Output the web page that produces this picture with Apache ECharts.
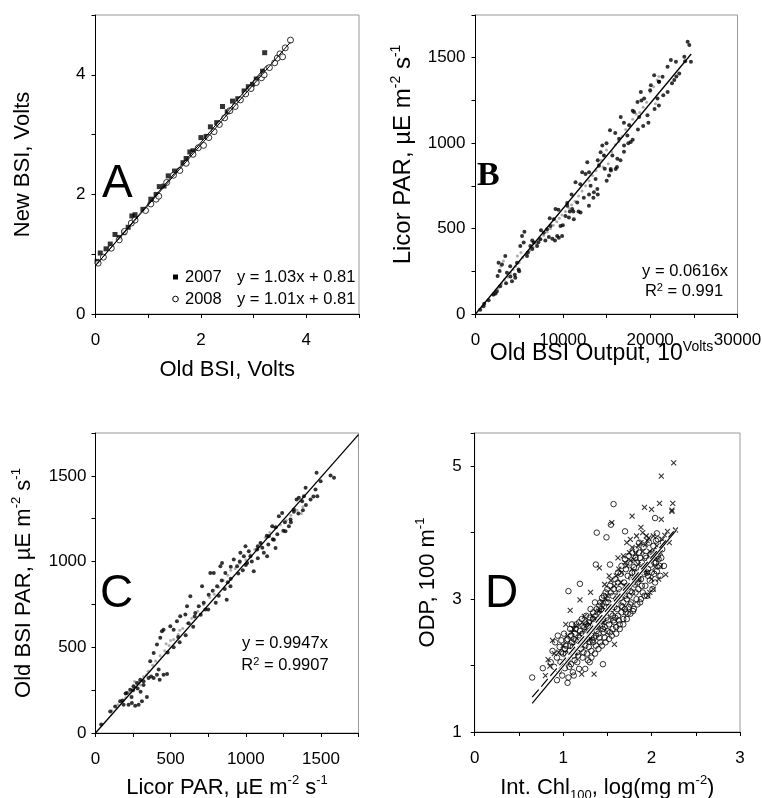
<!DOCTYPE html>
<html>
<head>
<meta charset="utf-8">
<script src="https://cdn.jsdelivr.net/npm/echarts@6/dist/echarts.min.js"></script>
<style>
  html, body { margin: 0; padding: 0; background: #fff; }
  #main { width: 762px; height: 798px; }
</style>
</head>
<body>
<div id="main"></div>
<script>
// ---- data ----
// panel A: new vs old BSI, volts
const panelA2007 = [[0.03,0.88],[0.09,1.02],[0.2,1.09],[0.28,1.17],[0.37,1.33],[0.45,1.28],[0.54,1.36],[0.62,1.45],
  [0.69,1.64],[0.75,1.66],[0.9,1.75],[1.05,1.92],[1.15,2.0],[1.21,2.13],[1.3,2.14],[1.38,2.31],[1.5,2.39],[1.66,2.53],
  [1.72,2.6],[1.79,2.71],[1.85,2.73],[2.0,2.95],[2.1,2.97],[2.18,3.13],[2.3,3.2],[2.41,3.47],[2.5,3.38],[2.6,3.56],
  [2.7,3.6],[2.82,3.73],[2.9,3.8],[2.98,3.84],[3.05,3.93],[3.17,4.06],[3.21,4.37]];
const panelA2008 = [[0.05,0.85],[0.15,0.95],[0.3,1.1],[0.45,1.24],[0.55,1.38],[0.68,1.52],[0.75,1.57],[0.95,1.73],
  [1.05,1.84],[1.15,1.92],[1.2,1.97],[1.35,2.2],[1.48,2.32],[1.6,2.4],[1.72,2.52],[1.85,2.67],[1.95,2.78],[2.05,2.82],
  [2.15,2.95],[2.25,3.05],[2.35,3.17],[2.45,3.28],[2.55,3.4],[2.65,3.47],[2.75,3.58],[2.85,3.68],[2.95,3.77],[3.05,3.87],
  [3.15,3.95],[3.2,4.0],[3.3,4.12],[3.4,4.2],[3.45,4.28],[3.5,4.35],[3.55,4.3],[3.6,4.45],[3.7,4.58]];
const fitA2007 = [1.03, 0.81], rangeA2007 = [0, 3.25];
const fitA2008 = [1.01, 0.81], rangeA2008 = [0, 3.7];

// panel B: licor PAR vs old BSI output
const panelBBlack = [[540,25],[920,45],[1000,60],[1500,80],[2070,114],[2300,120],[2450,133],[2830,163],[2530,222],[2760,251],
  [3030,290],[2640,300],[3410,339],[3500,180],[3600,241],[3980,280],[4000,220],[4180,192],[4500,230],[4560,212],[4750,300],
  [4940,261],[5000,250],[5130,398],[5330,457],[5520,418],[5600,482],[5900,339],[6000,360],[6280,398],[6500,380],[6500,430],
  [6670,418],[7050,398],[7200,420],[7430,437],[7500,490],[7820,476],[8000,430],[8200,496],[8400,450],[8500,560],[8580,515],
  [8800,440],[8970,555],[9100,430],[9160,614],[9350,457],[9500,610],[9540,447],[9730,515],[9920,457],[10000,520],[10300,574],
  [10500,633],[10500,650],[10690,565],[10800,600],[11000,700],[11070,614],[11200,600],[11260,555],[11450,771],[11650,653],
  [11800,600],[12000,760],[12030,594],[12220,829],[12400,680],[12600,819],[12800,888],[12990,633],[13000,700],[13000,830],
  [13180,751],[13500,680],[13560,712],[13750,790],[13950,731],[14000,700],[14000,900],[14140,868],[14330,947],[14520,986],
  [14710,927],[14800,850],[15000,1000],[15020,780],[15290,810],[15400,1075],[15480,849],[15500,840],[15670,927],[16000,1060],
  [16050,849],[16200,860],[16240,908],[16440,1025],[16600,900],[16630,1153],[17000,950],[17000,1120],[17010,986],[17390,1045],
  [17500,1000],[17590,1104],[17780,1006],[18000,1020],[18000,1190],[18160,1182],[18550,1241],[18600,1080],[18740,1153],
  [18930,1300],[19000,1250],[19200,1100],[19310,1261],[19690,1163],[19800,1120],[20000,1310],[20080,1339],[20460,1398],
  [20500,1200],[20840,1261],[21000,1220],[21000,1360],[21030,1359],[21420,1388],[21500,1280],[21990,1447],[22000,1300],
  [22370,1486],[22500,1350],[22760,1369],[22950,1476],[23000,1390],[23330,1408],[23910,1506],[24000,1480],[24290,1594],
  [24480,1574],[24670,1476]];
const panelBGray = [[2000,110],[2600,150],[2900,280],[3000,175],[3200,310],[3300,200],[3700,215],[4000,240],[4300,260],
  [4600,280],[4800,340],[5000,300],[5200,360],[5400,330],[5800,350],[6200,370],[6600,390],[7000,410],[7400,440],[7800,460],
  [8200,480],[8600,500],[8900,520],[9300,540],[9600,560],[9900,580],[10300,600],[10700,620],[11000,640],[11400,660],
  [11800,690],[12200,720],[12600,750],[13000,780],[13400,810],[13800,840],[14100,880],[14400,900],[14600,860],[14700,930],
  [15000,960],[15200,880],[15600,950],[16000,990],[16400,1010],[16800,1040],[17200,1080],[17600,1110],[18000,1140],
  [18400,1170],[18800,1180],[19200,1210],[19600,1240],[20000,1300],[20400,1330],[20600,1230],[20800,1370],[21000,1390]];
const fitB = [0.0616, 0], rangeB = [0, 24700];

// panel C: old BSI PAR vs licor PAR
const panelCBlack = [[38,49],[98,126],[131,155],[164,185],[180,190],[187,165],[200,230],[209,233],[220,165],[231,253],
  [240,210],[242,175],[250,250],[253,272],[264,159],[276,292],[280,260],[287,165],[298,311],[300,240],[309,185],[320,302],
  [320,280],[342,210],[353,321],[364,418],[370,330],[387,321],[387,467],[409,340],[409,516],[420,370],[427,311],[431,555],
  [442,593],[453,340],[453,603],[476,344],[480,470],[498,623],[520,603],[520,500],[542,652],[550,560],[560,530],[564,681],
  [598,691],[600,570],[609,739],[620,640],[631,798],[650,620],[660,680],[664,700],[687,739],[700,690],[709,856],[720,760],
  [731,720],[750,720],[753,807],[764,934],[780,830],[787,934],[800,760],[809,856],[820,800],[831,973],[840,890],[842,992],
  [860,840],[864,934],[873,778],[880,880],[898,856],[900,900],[900,970],[920,1012],[942,973],[950,930],[960,1000],[964,1051],
  [980,950],[987,1031],[998,1089],[1000,980],[1009,992],[1020,1060],[1031,1031],[1040,1000],[1053,944],[1076,1070],
  [1080,1020],[1080,1090],[1098,1109],[1110,1080],[1120,1051],[1140,1150],[1142,1031],[1150,1100],[1153,1148],[1176,1206],
  [1180,1130],[1187,1128],[1198,1079],[1200,1200],[1210,1160],[1220,1265],[1242,1284],[1250,1180],[1260,1230],[1264,1177],
  [1287,1206],[1298,1245],[1300,1230],[1320,1304],[1320,1290],[1338,1362],[1350,1280],[1353,1372],[1375,1352],[1380,1300],
  [1387,1381],[1398,1430],[1400,1330],[1431,1362],[1450,1380],[1464,1420],[1471,1518],[1476,1381],[1498,1469],[1564,1502],
  [1587,1489]];
const panelCGray = [[110,130],[150,165],[200,205],[230,235],[260,270],[260,300],[290,300],[300,280],[320,330],[340,340],
  [350,360],[380,395],[400,420],[430,450],[460,480],[470,520],[490,510],[500,540],[520,545],[550,575],[560,600],[580,610],
  [610,640],[640,670],[680,710],[720,750],[760,790],[790,810],[820,850],[850,890],[880,920],[900,950],[930,960],[960,990],
  [1000,1010],[1030,1040],[1060,1070],[1100,1110],[1130,1140],[1160,1170],[1190,1200],[1230,1215],[1270,1240],[1300,1270],
  [1340,1300],[1370,1280],[1380,1320]];
const fitC = [0.9947, 0], rangeC = [0, 1750];

// panel D: ODP vs integrated chl
const panelDCircles = [[0.65,1.82],[0.77,1.96],[0.86,2.05],[0.88,2.22],[0.90,1.98],[0.91,2.35],[0.93,2.12],[0.93,1.78],
  [0.94,2.45],[0.95,1.92],[0.96,2.28],[0.97,2.05],[0.98,2.38],[0.98,2.20],[0.99,1.85],[1.00,2.18],[1.01,2.48],[1.02,1.96],
  [1.02,2.25],[1.03,2.30],[1.04,2.10],[1.05,2.40],[1.05,1.74],[1.06,1.82],[1.06,2.15],[1.06,3.12],[1.07,2.22],[1.08,2.55],
  [1.08,2.30],[1.09,2.02],[1.10,2.35],[1.11,1.90],[1.12,2.15],[1.12,2.40],[1.12,1.85],[1.13,2.48],[1.14,2.28],[1.15,2.62],
  [1.16,2.05],[1.16,2.20],[1.17,2.38],[1.18,1.95],[1.18,2.32],[1.19,2.52],[1.19,3.23],[1.20,2.25],[1.21,2.70],[1.22,2.12],
  [1.23,2.42],[1.24,2.58],[1.24,2.38],[1.25,2.30],[1.25,1.95],[1.26,2.75],[1.26,2.50],[1.27,2.18],[1.28,2.48],[1.28,2.60],
  [1.29,2.65],[1.30,2.36],[1.30,2.05],[1.31,2.85],[1.32,2.22],[1.32,2.45],[1.33,2.55],[1.34,2.70],[1.34,2.35],[1.35,2.42],
  [1.36,2.95],[1.36,2.58],[1.37,2.30],[1.37,3.52],[1.38,2.62],[1.38,2.52],[1.38,4.00],[1.39,2.80],[1.40,2.48],[1.40,2.70],
  [1.41,2.90],[1.42,2.35],[1.42,2.78],[1.43,2.68],[1.44,3.02],[1.44,2.60],[1.45,2.55],[1.45,2.02],[1.46,2.82],[1.46,2.50],
  [1.47,2.42],[1.48,3.10],[1.48,2.80],[1.49,2.72],[1.49,3.93],[1.50,2.52],[1.51,2.95],[1.52,2.62],[1.52,2.88],[1.53,3.20],
  [1.53,3.52],[1.54,2.78],[1.54,3.10],[1.54,4.12],[1.55,2.45],[1.56,3.05],[1.56,2.75],[1.57,2.68],[1.57,4.43],[1.58,2.88],
  [1.58,2.65],[1.59,3.30],[1.60,2.58],[1.60,3.00],[1.61,2.98],[1.62,2.75],[1.62,3.25],[1.63,3.15],[1.64,2.62],[1.64,3.10],
  [1.65,3.38],[1.66,2.90],[1.66,2.80],[1.67,3.08],[1.68,2.70],[1.68,2.95],[1.69,3.25],[1.70,2.85],[1.70,3.05],[1.70,4.02],
  [1.71,3.45],[1.72,3.00],[1.72,3.20],[1.73,2.78],[1.74,3.18],[1.74,2.88],[1.75,3.55],[1.76,2.92],[1.76,3.12],[1.77,3.32],
  [1.78,3.10],[1.78,3.40],[1.79,2.82],[1.80,3.48],[1.80,3.30],[1.81,3.22],[1.82,3.62],[1.82,3.10],[1.83,3.00],[1.84,3.40],
  [1.84,3.25],[1.85,3.15],[1.86,3.70],[1.87,2.95],[1.88,3.30],[1.88,3.45],[1.89,3.55],[1.90,3.10],[1.91,3.78],[1.92,3.38],
  [1.92,3.50],[1.93,3.20],[1.94,3.62],[1.95,3.05],[1.96,3.45],[1.96,3.35],[1.97,3.85],[1.98,3.28],[1.99,3.68],[2.00,3.40],
  [2.00,3.60],[2.01,3.15],[2.02,3.80],[2.03,3.55],[2.04,3.25],[2.04,4.22],[2.05,3.72],[2.05,3.88],[2.06,3.42],[2.06,3.99],
  [2.07,3.90],[2.08,3.60],[2.10,3.35],[2.12,3.75],[2.14,3.50],
  [1.01,2.05],[1.03,2.18],[1.04,2.38],[1.07,1.98],[1.09,2.45],[1.11,2.28],[1.13,2.08],[1.14,2.55],[1.17,2.15],[1.19,2.42],
  [1.21,2.35],[1.22,2.60],[1.23,2.20],[1.25,2.65],[1.27,2.40],[1.29,2.28],[1.31,2.52],[1.33,2.38],[1.35,2.65],[1.37,2.45],
  [1.39,2.58],[1.41,2.42],[1.43,2.85],[1.45,2.70],[1.47,2.58],[1.49,2.95],[1.51,2.68],[1.53,2.50],[1.55,2.85],[1.57,3.15],
  [1.59,2.72],[1.61,2.85],[1.63,2.68],[1.65,3.02],[1.67,2.88],[1.69,3.12],[1.71,2.80],[1.73,3.35],[1.75,3.05],[1.77,2.95],
  [1.79,3.25],[1.81,3.40],[1.83,3.55],[1.85,3.30],[1.87,3.62],[1.89,3.20],[1.91,3.45],[1.93,3.65],[1.95,3.40],[1.97,3.58],
  [1.99,3.52],[2.01,3.70],[2.03,3.38],[2.05,3.55],[2.07,3.65],[2.09,3.50],[2.11,3.62],[2.13,3.85],[1.62,3.40],[1.66,3.50],
  [1.70,3.60],[1.74,3.65],[1.78,3.70],[1.82,3.75],[1.86,3.85],[1.60,2.48],[1.64,2.55],[1.68,2.62],[1.72,2.70],[1.76,2.78],
  [1.80,2.85],[1.84,2.92],[1.88,3.00],[1.92,3.05],[1.50,3.15],[1.46,3.05],[1.42,2.95],[1.38,2.85],[1.34,2.80],[1.30,2.72],
  [1.26,2.62],[1.22,2.48],[1.18,2.65],[1.14,2.38],[1.10,2.62],[1.56,2.55],[1.52,2.40],[1.48,2.35],[1.44,2.30],[1.40,2.25],
  [1.36,2.18],[1.32,2.12],[1.28,2.08]];
const panelDCrosses = [[0.80,1.85],[0.83,2.09],[0.85,1.99],[0.88,2.38],[0.90,2.18],[0.95,2.20],[1.00,2.30],[1.03,2.62],
  [1.08,2.83],[1.10,2.50],[1.15,2.60],[1.19,2.99],[1.21,1.87],[1.24,2.74],[1.27,2.52],[1.31,3.10],[1.33,2.75],[1.35,1.87],
  [1.41,3.47],[1.45,2.88],[1.47,3.22],[1.50,3.05],[1.52,3.35],[1.55,4.15],[1.58,2.32],[1.58,3.20],[1.62,3.62],[1.63,3.45],
  [1.65,3.25],[1.68,3.65],[1.70,3.55],[1.72,3.85],[1.75,3.70],[1.78,4.25],[1.78,3.78],[1.80,3.60],[1.85,3.52],[1.85,3.80],
  [1.88,4.08],[1.90,3.72],[1.92,4.38],[1.94,3.95],[1.95,3.88],[1.96,3.05],[1.98,3.72],[1.98,3.10],[2.00,4.35],[2.00,3.30],
  [2.02,3.15],[2.05,3.62],[2.08,3.30],[2.09,4.44],[2.10,3.70],[2.10,3.49],[2.11,4.85],[2.11,4.20],[2.15,3.96],[2.16,3.37],
  [2.23,4.34],[2.23,4.32],[2.24,4.44],[2.25,5.05],[2.27,4.04],
  [1.05,2.45],[1.12,2.55],[1.18,2.48],[1.25,2.45],[1.30,2.62],[1.36,2.70],[1.40,2.82],[1.44,2.95],[1.48,3.00],[1.54,3.28],
  [1.60,3.35],[1.66,3.40],[1.72,3.50],[1.76,3.58],[1.82,3.68],[1.88,3.85],[1.93,3.82],[1.97,3.92],[2.02,3.95],[2.06,3.80],
  [2.12,3.90],[2.18,4.02],[1.55,2.95],[1.62,3.05],[1.70,3.20],[1.78,3.45],[1.86,3.30],[1.94,3.40],[2.04,3.48],[1.46,2.65],
  [1.38,2.60],[1.30,2.40],[1.22,2.30],[1.14,2.20],[1.06,2.05],[0.98,2.00],[1.76,3.90],[1.83,3.95],[1.90,4.00],[2.20,3.85]];
const fitDSolid = [1.60, 0.39], rangeDSolid = [0.65, 2.28];
const fitDDashed = [1.56, 0.51], rangeDDashed = [0.65, 2.25];

// tick labels shown on each axis
const labelsAX = [0, 2, 4], labelsAY = [0, 2, 4];
const labelsBX = [0, 10000, 20000, 30000], labelsBY = [0, 500, 1000, 1500];
const labelsCX = [0, 500, 1000, 1500], labelsCY = [0, 500, 1000, 1500];
const labelsDX = [0, 1, 2, 3], labelsDY = [1, 3, 5];

const FONT = '"Liberation Sans", Arial, sans-serif';

function fitLine(coef, range) {
    return range.map(function (x) { return [x, coef[0] * x + coef[1]]; });
}

function onlyLabels(list) {
    return function (v) {
        for (let i = 0; i < list.length; i++) {
            if (Math.abs(list[i] - v) < 1e-6) return String(list[i]);
        }
        return '';
    };
}

function richName(supSize) {
    return {
        sup: {fontSize: supSize, lineHeight: supSize, verticalAlign: 'top', fontFamily: FONT, color: '#000'},
        sub: {fontSize: supSize, lineHeight: supSize, verticalAlign: 'bottom', fontFamily: FONT, color: '#000'}
    };
}

// extra: {size, pad} tweaks for the axis title
function axis(grid, min, max, interval, labels, name, gap, margin, extra) {
    extra = extra || {};
    let size = extra.size || 22;
    return {
        type: 'value', gridIndex: grid, min: min, max: max, interval: interval,
        name: name, nameLocation: 'middle', nameGap: gap, nameMoveOverlap: false,
        nameTextStyle: {fontFamily: FONT, fontSize: size, color: '#000', lineHeight: 28,
            padding: extra.pad || 0, rich: richName(Math.round(size * 0.6))},
        axisLine: {show: true, onZero: false, lineStyle: {color: '#000', width: 1}},
        axisTick: {show: true, length: 4, lineStyle: {color: '#000'}},
        axisLabel: {show: true, margin: margin, fontFamily: FONT, fontSize: 17, color: '#000',
            showMinLabel: true, showMaxLabel: true, formatter: onlyLabels(labels)},
        splitLine: {show: false}
    };
}

function scatter(xi, data, symbol, size, style, z) {
    return {type: 'scatter', xAxisIndex: xi, yAxisIndex: xi, data: data, symbol: symbol,
        symbolSize: size, itemStyle: style, silent: true, z: z || 2};
}

function line(xi, data, width, color, type, z) {
    return {type: 'line', xAxisIndex: xi, yAxisIndex: xi, data: data, symbol: 'none', silent: true,
        lineStyle: {color: color, width: width, type: type || 'solid'}, z: z || 3};
}

let chart = echarts.init(document.getElementById('main'));
let gridBox = {show: true, borderColor: '#999', borderWidth: 1, containLabel: false, outerBoundsMode: 'none'};

let option = {
    animation: false,
    backgroundColor: '#fff',
    grid: [
        Object.assign({left: 95.5, top: 15, width: 263.5, height: 299}, gridBox),
        Object.assign({left: 475.5, top: 15, width: 262, height: 299}, gridBox),
        Object.assign({left: 95.5, top: 433, width: 263, height: 300}, gridBox),
        Object.assign({left: 474.7, top: 433, width: 265.3, height: 299}, gridBox)
    ],
    xAxis: [
        axis(0, 0, 5, 1, labelsAX, 'Old BSI, Volts', 42, 18),
        axis(1, 0, 30000, 5000, labelsBX, 'Old BSI Output, 10{sup|Volts}', 26, 18, {size: 23, pad: [0, 10, 0, 0]}),
        axis(2, 0, 1750, 250, labelsCX, 'Licor PAR, µE m{sup|-2} s{sup|-1}', 41, 18),
        axis(3, 0, 3, 0.5, labelsDX, 'Int. Chl{sub|100}, log(mg m{sup|-2})', 42, 18)
    ],
    yAxis: [
        axis(0, 0, 5, 1, labelsAY, 'New BSI, Volts', 59, 10),
        axis(1, 0, 1750, 250, labelsBY, 'Licor PAR, µE m{sup|-2} s{sup|-1}', 58, 10, {size: 24, pad: [0, 0, 0, 20]}),
        axis(2, 0, 1750, 250, labelsCY, 'Old BSI PAR, µE m{sup|-2} s{sup|-1}', 58, 9),
        axis(3, 1, 5.5, 1, labelsDY, 'ODP, 100 m{sup|-1}', 33, 13)
    ],
    series: [
        // A
        scatter(0, panelA2007, 'rect', 5, {color: '#000'}),
        scatter(0, panelA2008, 'circle', 6, {color: '#fff', borderColor: '#000', borderWidth: 1}),
        line(0, fitLine(fitA2007, rangeA2007), 1, '#000'),
        line(0, fitLine(fitA2008, rangeA2008), 1, '#000'),
        // B
        scatter(1, panelBGray, 'circle', 3, {color: '#999'}),
        scatter(1, panelBBlack, 'circle', 4, {color: '#000'}),
        line(1, fitLine(fitB, rangeB), 1.3, '#000'),
        // C
        scatter(2, panelCGray, 'circle', 3, {color: '#999'}),
        scatter(2, panelCBlack, 'circle', 4, {color: '#000'}),
        line(2, fitLine(fitC, rangeC), 1.3, '#000'),
        // D
        scatter(3, panelDCircles, 'circle', 5.5, {color: 'rgba(0,0,0,0)', borderColor: '#000', borderWidth: 1}),
        scatter(3, panelDCrosses, 'path://M0,0L10,10M10,0L0,10', 5, {color: 'none', borderColor: '#000', borderWidth: 1.1}),
        line(3, fitLine(fitDSolid, rangeDSolid), 3, '#fff', 'solid', 4),
        line(3, fitLine(fitDDashed, rangeDDashed), 3, '#fff', 'solid', 4),
        line(3, fitLine(fitDSolid, rangeDSolid), 1.2, '#000', 'solid', 5),
        line(3, fitLine(fitDDashed, rangeDDashed), 1.2, '#000', [10, 4], 5)
    ],
    graphic: [
        // panel letters
        {type: 'text', x: 102, y: 184, style: {text: 'A', font: '46px ' + FONT, fill: '#000', verticalAlign: 'middle'}},
        {type: 'text', x: 477, y: 176, style: {text: 'B', font: 'bold 34px "Liberation Serif", "Times New Roman", serif', fill: '#000', verticalAlign: 'middle'}},
        {type: 'text', x: 100, y: 594, style: {text: 'C', font: '46px ' + FONT, fill: '#000', verticalAlign: 'middle'}},
        {type: 'text', x: 485, y: 594, style: {text: 'D', font: '46px ' + FONT, fill: '#000', verticalAlign: 'middle'}},
        // legend A
        {type: 'rect', shape: {x: 173, y: 274.5, width: 5, height: 5}, style: {fill: '#000'}},
        {type: 'circle', shape: {cx: 175.5, cy: 299, r: 2.8}, style: {fill: '#fff', stroke: '#000', lineWidth: 1}},
        {type: 'text', x: 185, y: 277, style: {text: '2007', font: '16.5px ' + FONT, fill: '#000', verticalAlign: 'middle'}},
        {type: 'text', x: 185, y: 299, style: {text: '2008', font: '16.5px ' + FONT, fill: '#000', verticalAlign: 'middle'}},
        {type: 'text', x: 237, y: 277, style: {text: 'y = 1.03x + 0.81', font: '16.5px ' + FONT, fill: '#000', verticalAlign: 'middle'}},
        {type: 'text', x: 237, y: 299, style: {text: 'y = 1.01x + 0.81', font: '16.5px ' + FONT, fill: '#000', verticalAlign: 'middle'}},
        // equations B
        {type: 'text', x: 685, y: 271, style: {text: 'y = 0.0616x', font: '16.5px ' + FONT, fill: '#000', align: 'center', verticalAlign: 'middle'}},
        {type: 'text', x: 684, y: 291, style: {text: 'R{s|2} = 0.991', font: '16.5px ' + FONT, fill: '#000', align: 'center', verticalAlign: 'middle',
            rich: {s: {fontSize: 11, lineHeight: 11, verticalAlign: 'top', fontFamily: FONT}}}},
        // equations C
        {type: 'text', x: 285, y: 643, style: {text: 'y = 0.9947x', font: '16.5px ' + FONT, fill: '#000', align: 'center', verticalAlign: 'middle'}},
        {type: 'text', x: 285, y: 665, style: {text: 'R{s|2} = 0.9907', font: '16.5px ' + FONT, fill: '#000', align: 'center', verticalAlign: 'middle',
            rich: {s: {fontSize: 11, lineHeight: 11, verticalAlign: 'top', fontFamily: FONT}}}}
    ]
};

chart.setOption(option);
</script>
</body>
</html>
